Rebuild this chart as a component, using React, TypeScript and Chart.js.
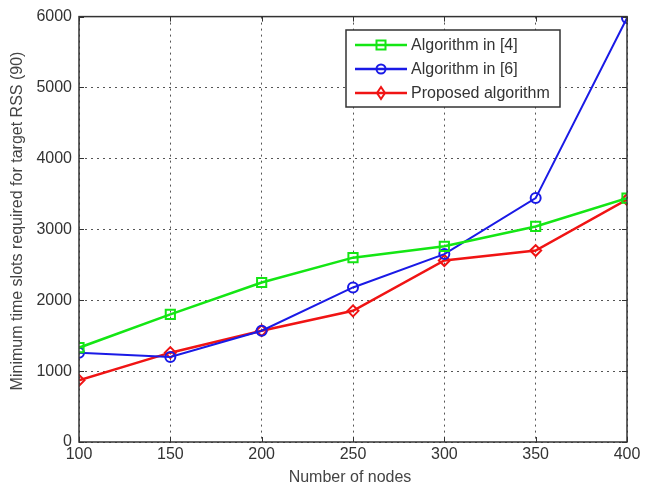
import React, { useEffect, useRef } from 'react';
import { Chart, registerables } from 'chart.js';
Chart.register(...registerables);

const nodes = [100, 150, 200, 250, 300, 350, 400];
const algo4 = [1330, 1800, 2250, 2600, 2760, 3040, 3440];
const algo6 = [1260, 1200, 1570, 2180, 2650, 3440, 5980];
const proposed = [870, 1260, 1570, 1850, 2560, 2700, 3420];
const seriesLabels = ['Algorithm in [4]', 'Algorithm in [6]', 'Proposed algorithm'];
const xTitle = 'Number of nodes';
const yTitle = 'Minimum time slots required for target RSS (90)';

const FONT = '"Liberation Sans", Arial, Helvetica, sans-serif';
const colors = ['#14e614', '#1a1ae6', '#f01414'];
const markers = ['rect', 'circle', 'rectRot'];
const markerRadius = [6.5, 5, 5.5];

const toXY = (vals: number[]) => vals.map((v, i) => ({ x: nodes[i], y: v }));

const framePlugin = {
  id: 'frame',
  beforeDatasetsDraw(chart: any) {
    const { ctx, chartArea: a } = chart;
    const xs = chart.scales.x, ys = chart.scales.y;
    ctx.save();
    ctx.strokeStyle = '#333';
    ctx.lineWidth = 1;
    xs.ticks.forEach((t: any) => {
      const px = Math.round(xs.getPixelForValue(t.value)) + 0.5;
      ctx.beginPath();
      ctx.moveTo(px, a.bottom); ctx.lineTo(px, a.bottom - 5);
      ctx.moveTo(px, a.top); ctx.lineTo(px, a.top + 5);
      ctx.stroke();
    });
    ys.ticks.forEach((t: any) => {
      const py = Math.round(ys.getPixelForValue(t.value)) + 0.5;
      ctx.beginPath();
      ctx.moveTo(a.left, py); ctx.lineTo(a.left + 5, py);
      ctx.moveTo(a.right, py); ctx.lineTo(a.right - 5, py);
      ctx.stroke();
    });
    ctx.restore();
  },
  afterDraw(chart: any) {
    const { ctx, chartArea: a } = chart;
    ctx.save();
    ctx.strokeStyle = '#333';
    ctx.lineWidth = 1.5;
    ctx.strokeRect(a.left, a.top, a.right - a.left, a.bottom - a.top);
    ctx.fillStyle = '#444';
    ctx.font = `16px ${FONT}`;
    ctx.textAlign = 'center';
    ctx.textBaseline = 'middle';
    ctx.fillText(xTitle, (a.left + a.right) / 2 - 3, a.bottom + 36);
    ctx.translate(18, 221);
    ctx.rotate(-Math.PI / 2);
    ctx.fillText(yTitle, 0, 0);
    ctx.restore();

    ctx.save();
    const bx = 346, by = 30, bw = 214, bh = 77;
    ctx.fillStyle = '#fff';
    ctx.fillRect(bx, by, bw, bh);
    ctx.strokeStyle = '#333';
    ctx.lineWidth = 1.5;
    ctx.strokeRect(bx, by, bw, bh);
    ctx.font = `16px ${FONT}`;
    ctx.textAlign = 'left';
    ctx.textBaseline = 'middle';
    seriesLabels.forEach((lab, i) => {
      const y = by + 15 + i * 24;
      ctx.strokeStyle = colors[i];
      ctx.lineWidth = 2.5;
      ctx.beginPath();
      ctx.moveTo(355, y); ctx.lineTo(407, y);
      ctx.stroke();
      const cx = 381;
      ctx.lineWidth = 2;
      ctx.beginPath();
      if (i === 0) ctx.rect(cx - 4.5, y - 4.5, 9, 9);
      else if (i === 1) ctx.arc(cx, y, 4.5, 0, Math.PI * 2);
      else { ctx.moveTo(cx, y - 6); ctx.lineTo(cx + 4, y); ctx.lineTo(cx, y + 6); ctx.lineTo(cx - 4, y); ctx.closePath(); }
      ctx.stroke();
      ctx.fillStyle = '#333';
      ctx.fillText(lab, 411, y + 1);
    });
    ctx.restore();
  },
};

export default function App() {
  const ref = useRef<HTMLCanvasElement>(null);
  useEffect(() => {
    const series = [algo4, algo6, proposed];
    const chart = new Chart(ref.current!, {
      type: 'line',
      data: {
        datasets: series.map((s, i) => ({
          label: seriesLabels[i],
          data: toXY(s),
          borderColor: colors[i],
          backgroundColor: 'transparent',
          borderWidth: i === 1 ? 2 : 2.5,
          pointStyle: markers[i] as any,
          pointRadius: markerRadius[i],
          pointBorderWidth: 2,
          pointBorderColor: colors[i],
          pointBackgroundColor: 'transparent',
          tension: 0,
        })),
      },
      options: {
        animation: false,
        responsive: false,
        layout: { padding: { top: 15, right: 22, left: 0, bottom: 0 } },
        plugins: { legend: { display: false }, tooltip: { enabled: false } },
        scales: {
          x: {
            type: 'linear',
            min: 100,
            max: 400,
            afterFit: (s: any) => { s.height = 48; },
            ticks: { stepSize: 50, color: '#333', font: { family: FONT, size: 16 }, padding: 3, callback: (v: any) => String(v) },
            grid: { color: '#555', drawTicks: false },
            border: { display: false, dash: [2, 4] },
          },
          y: {
            min: 0,
            max: 6000,
            afterFit: (s: any) => { s.width = 79; },
            ticks: { stepSize: 1000, color: '#333', font: { family: FONT, size: 16 }, padding: 7, callback: (v: any) => String(v) },
            grid: { color: '#555', drawTicks: false },
            border: { display: false, dash: [2, 4] },
          },
        },
      },
      plugins: [framePlugin],
    });
    return () => chart.destroy();
  }, []);
  return (
    <div style={{ position: 'fixed', left: 0, top: 0, width: 649, height: 490, background: '#fff' }}>
      <canvas ref={ref} width={649} height={490} />
    </div>
  );
}
